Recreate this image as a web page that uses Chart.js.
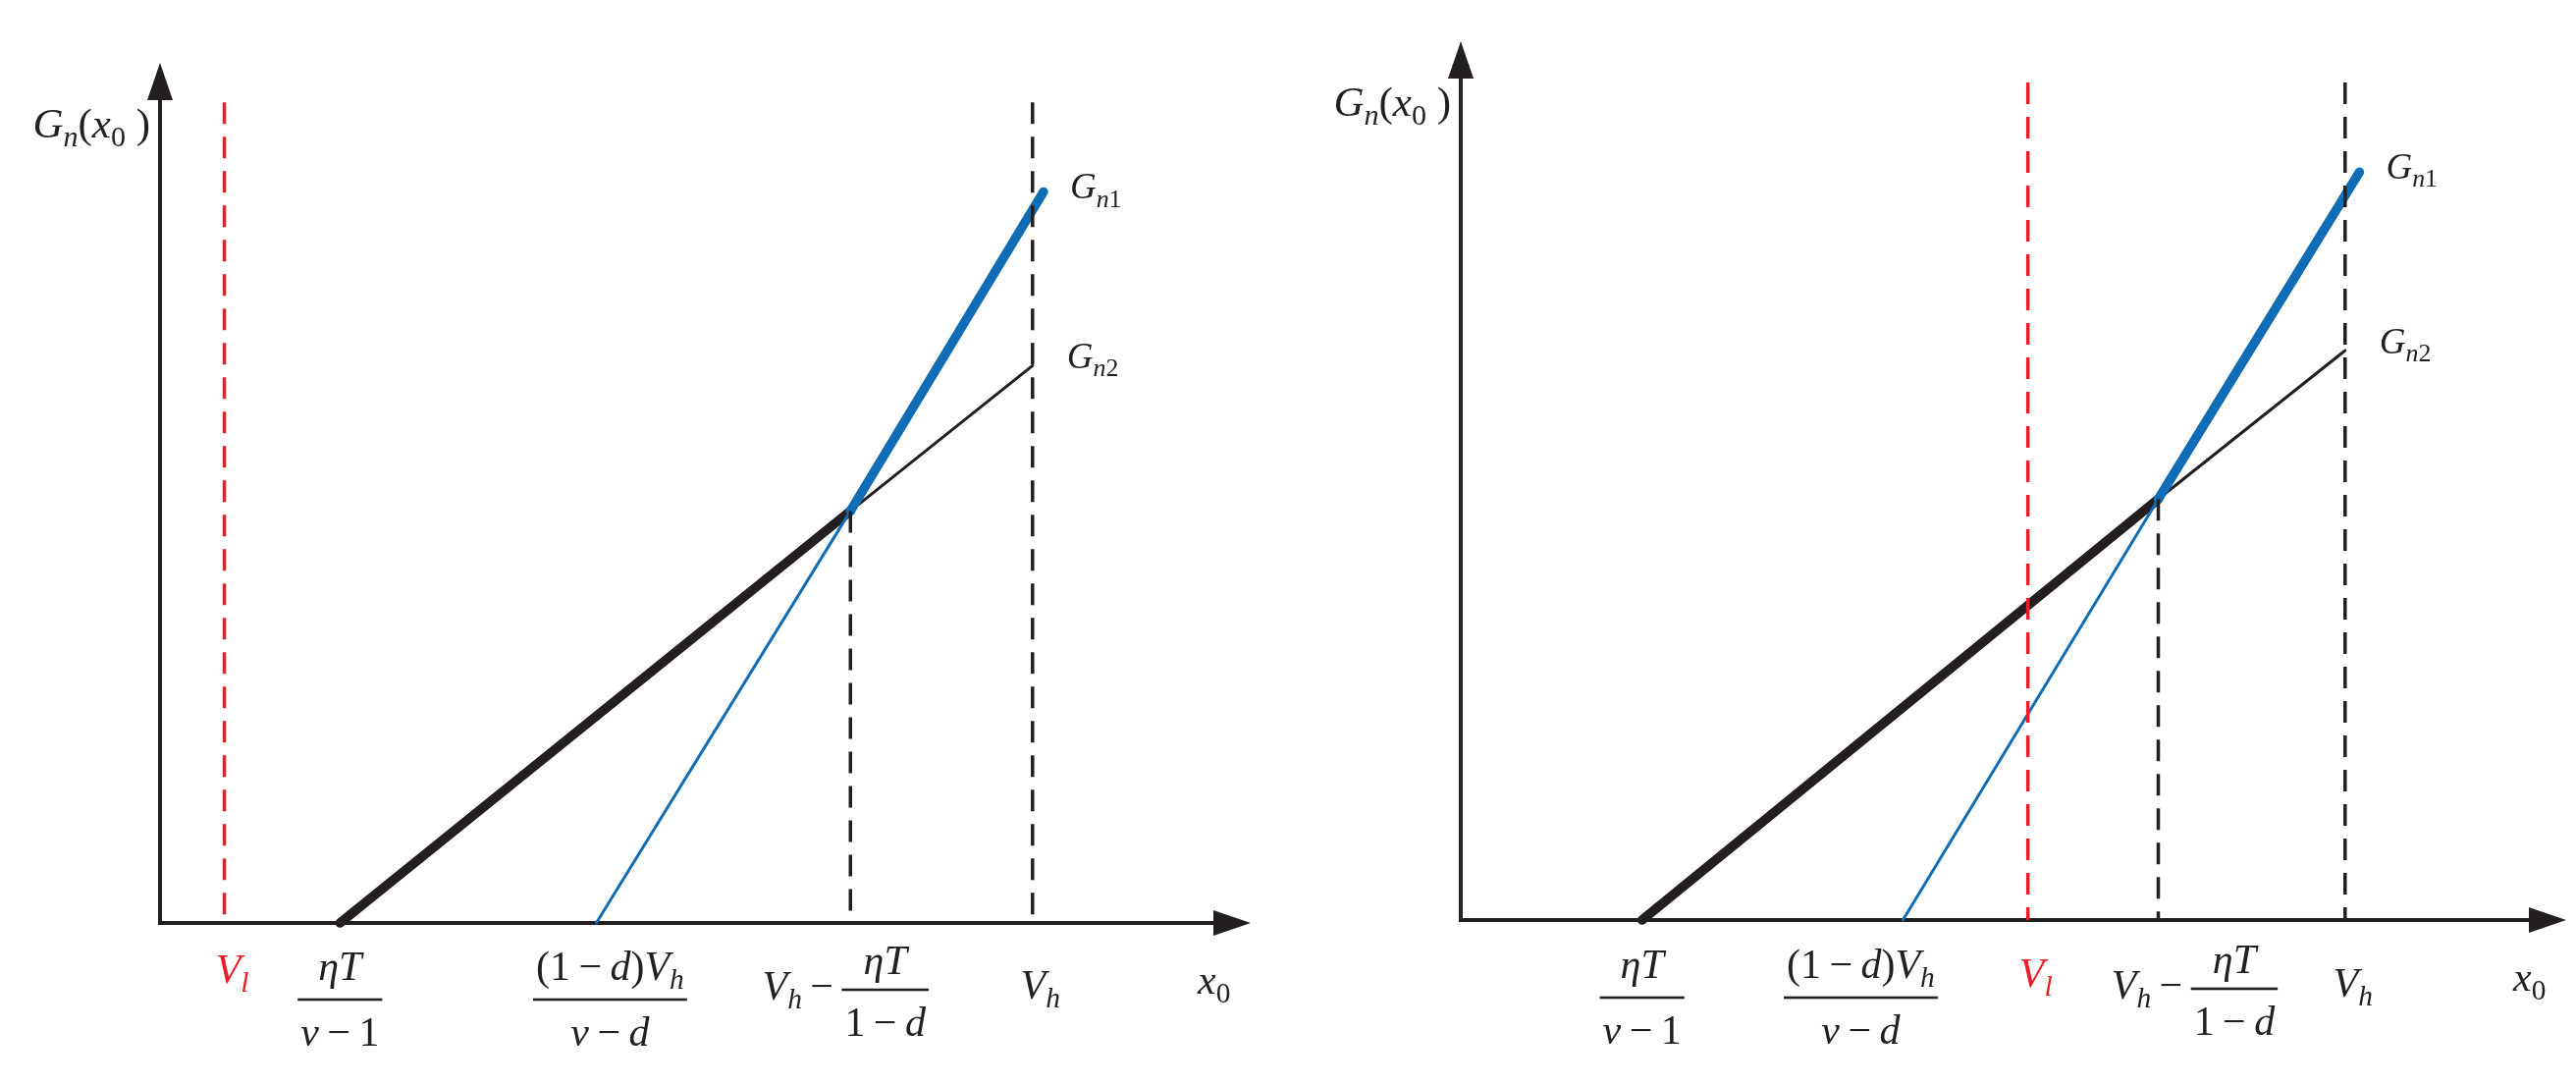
<!DOCTYPE html>
<html>
<head>
<meta charset="utf-8">
<script src="https://cdn.jsdelivr.net/npm/chart.js@4.4.1/dist/chart.umd.min.js"></script>
<style>
  html, body { margin: 0; padding: 0; background: #fff; }
  #wrap { position: relative; width: 2624px; height: 1105px; }
  canvas { position: absolute; top: 0; }
  #left { left: 0; }
  #right { left: 1312px; }
</style>
</head>
<body>
<div id="wrap">
  <canvas id="left" width="1312" height="1105"></canvas>
  <canvas id="right" width="1312" height="1105"></canvas>
</div>
<script>
// x0 axis runs 0..10, G axis runs 0..10 (arbitrary units)
// tick order: V_l, ηT/(v-1), (1-d)V_h/(v-d), V_h - ηT/(1-d), V_h
const tickLabels = ['V_l', 'ηT/v\u2009−\u20091', '(1\u2009−\u2009d)V_h/v\u2009−\u2009d', 'V_h\u2009−\u2009|ηT/1\u2009−\u2009d', 'V_h'];
const leftTicks  = [0.59, 1.65, 4.0, 6.33, 8.0];
const rightTicks = [5.13, 1.64, 4.0, 6.31, 8.0];

// G_n1 / G_n2: start on the axis, cross, end at V_h
const leftGn1  = [[4.0, 0], [6.33, 4.79], [8.1, 8.5]];
const leftGn2  = [[1.65, 0], [6.33, 4.79], [8.0, 6.48]];
const rightGn1 = [[4.0, 0], [6.31, 4.79], [8.13, 8.51]];
const rightGn2 = [[1.64, 0], [6.31, 4.79], [8.0, 6.48]];

// top of the vertical dashed guides
const leftGuideTop = 9.54;
const rightGuideTop = 9.53;

const BLUE = '#106cb4';
const RED = '#ed1c24';
const INK = '#231f20';
const SERIF = '"Liberation Serif", "Times New Roman", serif';

// tiny math text: letters italic, "_x" or "_{..}" subscript
function mathRuns(str) {
  const runs = [];
  for (let i = 0; i < str.length; i++) {
    let ch = str[i], sub = false;
    if (ch === '_') {
      sub = true;
      i++;
      if (str[i] === '{') {
        const j = str.indexOf('}', i);
        ch = str.slice(i + 1, j);
        i = j;
      } else {
        ch = str[i];
      }
    }
    for (const c of ch) runs.push({ c: c, sub: sub, it: /[A-Za-z\u0370-\u03ff]/.test(c) });
  }
  return runs;
}
function runFont(r, size) {
  return (r.it ? 'italic ' : '') + (r.sub ? size * 0.7 : size) + 'px ' + SERIF;
}
function mathWidth(ctx, str, size) {
  let w = 0;
  mathRuns(str).forEach(function(r) { ctx.font = runFont(r, size); w += ctx.measureText(r.c).width; });
  return w;
}
function drawMath(ctx, str, x, y, size) {
  mathRuns(str).forEach(function(r) {
    ctx.font = runFont(r, size);
    ctx.fillText(r.c, x, y + (r.sub ? size * 0.22 : 0));
    x += ctx.measureText(r.c).width;
  });
}

function drawTickLabel(ctx, label, px, axisY, color, nudge) {
  const size = 42;
  const dx = nudge[0], dy = nudge[1];
  ctx.fillStyle = color;
  let prefix = '', body = label;
  if (label.indexOf('|') >= 0) { prefix = label.split('|')[0]; body = label.split('|')[1]; }
  if (body.indexOf('/') < 0) {
    const w = mathWidth(ctx, body, size);
    drawMath(ctx, body, px - w / 2 + 8 + dx, axisY + 72 + dy, size);
    return;
  }
  const num = body.split('/')[0], den = body.split('/')[1];
  const nw = mathWidth(ctx, num, size), dw = mathWidth(ctx, den, size);
  const fw = Math.max(nw, dw) + 6;
  const pw = prefix ? mathWidth(ctx, prefix, size) : 0;
  const left = px - (pw + fw) / 2 + dx;
  const barY = axisY + (prefix ? 68 : 78) + dy;
  if (prefix) drawMath(ctx, prefix, left, barY + 10, size);
  const fl = left + pw;
  ctx.fillRect(fl, barY - 1.3, fw, 2.6);
  drawMath(ctx, num, fl + (fw - nw) / 2, barY - (prefix ? 16 : 20), size);
  drawMath(ctx, den, fl + (fw - dw) / 2, barY + 47, size);
}

function makeSketch(ticks, gn1, gn2, nudges) {
  return {
    id: 'sketch',
    beforeDatasetsDraw(chart) {
      const ctx = chart.ctx, x = chart.scales.x, y = chart.scales.y;
      const x0 = x.getPixelForValue(0), y0 = y.getPixelForValue(0);
      const xEnd = x.getPixelForValue(10), yEnd = y.getPixelForValue(10);
      const A = 38, H = 13;
      ctx.save();
      ctx.strokeStyle = INK;
      ctx.fillStyle = INK;
      ctx.lineWidth = 4;
      ctx.lineJoin = 'miter';
      ctx.beginPath();
      ctx.moveTo(x0, yEnd + A - 1);
      ctx.lineTo(x0, y0);
      ctx.lineTo(xEnd - A + 1, y0);
      ctx.stroke();
      ctx.beginPath();
      ctx.moveTo(x0, yEnd);
      ctx.lineTo(x0 - H, yEnd + A);
      ctx.lineTo(x0 + H, yEnd + A);
      ctx.closePath();
      ctx.fill();
      ctx.beginPath();
      ctx.moveTo(xEnd, y0);
      ctx.lineTo(xEnd - A, y0 - H);
      ctx.lineTo(xEnd - A, y0 + H);
      ctx.closePath();
      ctx.fill();
      ctx.restore();
    },
    afterDatasetsDraw(chart) {
      const ctx = chart.ctx, x = chart.scales.x, y = chart.scales.y;
      const x0 = x.getPixelForValue(0), y0 = y.getPixelForValue(0);
      const xEnd = x.getPixelForValue(10), yEnd = y.getPixelForValue(10);
      ctx.save();
      ticks.forEach(function(v, i) {
        drawTickLabel(ctx, tickLabels[i], x.getPixelForValue(v), y0, i === 0 ? RED : INK, nudges[i]);
      });
      ctx.fillStyle = INK;
      drawMath(ctx, 'x_0', xEnd - 54, y0 + 72, 42);
      const yl = 'G_n(x_0 )';
      drawMath(ctx, yl, x0 - 10 - mathWidth(ctx, yl, 43), yEnd + 76, 43);
      const e1 = gn1[gn1.length - 1], e2 = gn2[gn2.length - 1];
      drawMath(ctx, 'G_{n1}', x.getPixelForValue(e1[0]) + 27, y.getPixelForValue(e1[1]) + 7, 37);
      drawMath(ctx, 'G_{n2}', x.getPixelForValue(e2[0]) + 35, y.getPixelForValue(e2[1]) + 3, 37);
      ctx.restore();
    }
  };
}

function pts(a) { return a.map(function(p) { return { x: p[0], y: p[1] }; }); }

function makePanel(id, ticks, gn1, gn2, guideTop, padding, nudges) {
  const cross = gn1[1];
  const dashed = { borderWidth: 3.5, borderDash: [22, 13], borderCapStyle: 'butt' };
  new Chart(document.getElementById(id), {
    type: 'line',
    data: {
      datasets: [
        Object.assign({ data: pts([[ticks[0], guideTop], [ticks[0], 0]]), borderColor: RED }, dashed),
        Object.assign({ data: pts([[ticks[4], guideTop], [ticks[4], 0]]), borderColor: INK }, dashed),
        Object.assign({ data: pts([[cross[0], cross[1]], [cross[0], 0]]), borderColor: INK }, dashed),
        {
          data: pts(gn1), borderColor: BLUE, borderCapStyle: 'round',
          segment: { borderWidth: function(c) { return c.p0DataIndex === 0 ? 3 : 9.5; } }
        },
        {
          data: pts(gn2), borderColor: INK, borderCapStyle: 'round',
          segment: { borderWidth: function(c) { return c.p0DataIndex === 0 ? 9.5 : 3; } }
        }
      ]
    },
    options: {
      responsive: false,
      animation: false,
      devicePixelRatio: 1,
      events: [],
      layout: { padding: padding },
      elements: { point: { radius: 0 }, line: { tension: 0, fill: false } },
      datasets: { line: { clip: false } },
      scales: {
        x: { type: 'linear', min: 0, max: 10, display: false },
        y: { type: 'linear', min: 0, max: 10, display: false }
      },
      plugins: { legend: { display: false }, tooltip: { enabled: false } }
    },
    plugins: [makeSketch(ticks, gn1, gn2, nudges)]
  });
}

makePanel('left', leftTicks, leftGn1, leftGn2, leftGuideTop,
  { left: 163, right: 38, top: 64, bottom: 165 },
  [[0, -11], [0, 0], [14, 0], [-5, 0], [0, 5]]);
makePanel('right', rightTicks, rightGn1, rightGn2, rightGuideTop,
  { left: 176, right: 10, top: 42, bottom: 168 },
  [[0, -4], [0, 1], [-43, 1], [37, 2], [0, 6]]);
</script>
</body>
</html>
